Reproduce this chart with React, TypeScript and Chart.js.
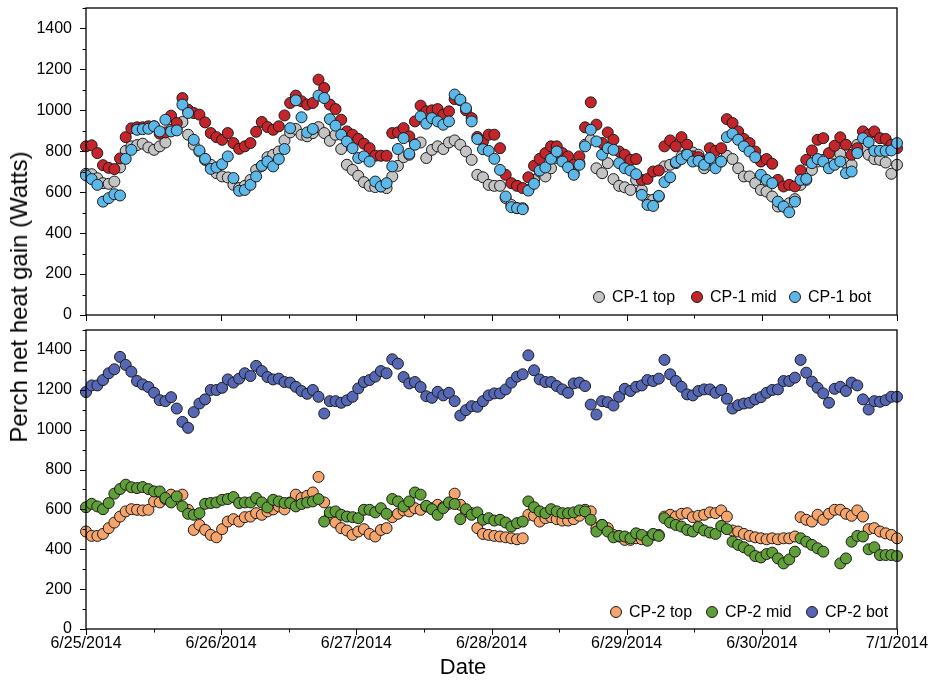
import React, { useEffect, useRef } from 'react';
import { Chart, registerables } from 'chart.js';

Chart.register(...registerables);

// Day labels along the shared time axis (one every 24 h)
const dateLabels = ['6/25/2014', '6/26/2014', '6/27/2014', '6/28/2014', '6/29/2014', '6/30/2014', '7/1/2014'];
// Labelled y ticks; minor ticks sit halfway between them
const yTickLabels = [0, 200, 400, 600, 800, 1000, 1200, 1400];
const Y_MAX = 1500;
const SPAN_HOURS = 144;

// Hourly perch net heat gain (W), CP-1 panel
const cp1Top = [
  690, 688, 668, 644, 641, 652, 721, 802, 824, 830, 837, 819, 807, 824, 843, 905, 905, 943, 881, 832,
  799, 758, 734, 693, 677, 672, 636, 620, 631, 660, 709, 729, 771,
  783, 799, 853, 892, 909, 881, 873, 889, 918, 889, 851, 881, 811, 734, 709, 680, 649, 631, 625, 628,
  620, 677, 729, 771, 783, 835, 843, 767, 807, 824, 811, 843, 853, 832, 799, 758, 685,
  673, 636, 631, 631, 571, 538, 522, 522, 611, 660, 701, 677, 717, 767, 758, 734, 693, 742, 832, 856,
  717, 693, 742, 664, 631, 624, 611, 660, 611, 563, 563, 579, 726, 734, 742, 775, 791,
  794, 783, 717, 734, 742, 750, 778, 762, 717, 677, 677, 644, 611, 603, 579, 530, 530, 546, 566, 636,
  660, 709, 750, 758, 750, 788, 788, 742, 734, 832, 815, 783, 762, 758, 745, 690, 734,
];
const cp1Mid = [
  824, 829, 791, 732, 719, 713, 765, 869, 912, 917, 917, 922, 922, 886, 892, 974, 938, 1060, 1003, 987,
  979, 941, 889, 869, 856, 889, 840, 812, 824, 840, 895, 943, 918,
  905, 922, 975, 1036, 1072, 1044, 1028, 1036, 1150, 1109, 1028, 1006, 954, 897, 881, 860, 837, 815,
  778, 778, 778, 889, 892, 913, 873, 946, 1023, 995, 1000, 1006, 979, 995,
  1055, 1049, 1000,
  962, 870, 848, 881, 881, 815, 685, 644, 631, 620, 673, 729, 763, 791, 824, 824, 791, 775, 734, 775,
  917, 1039, 930, 840, 892, 856, 799, 783, 758, 762, 660, 665, 701, 706, 824, 853, 824, 869, 832,
  775, 771, 750, 815, 802, 815, 957, 938, 897, 860, 840, 799, 750, 762, 739, 660, 628, 636, 628, 706,
  758, 804, 856, 864, 791, 827, 868, 832, 783, 815, 897, 881, 897, 864, 860, 832, 815,
];
const cp1Bot = [
  682, 664, 636, 554, 571, 590, 584, 763, 807, 905, 908, 910, 922, 897, 954, 897, 902, 1028, 987, 856,
  804, 763, 714, 721, 737, 775, 669, 607, 611, 636, 677, 729, 750,
  726, 762, 811, 913, 1049, 966, 892, 909, 1072, 1060, 957, 925, 881, 848, 815, 767, 775, 750, 652, 628,
  644, 726, 811, 864, 788, 832, 970, 935, 962, 946, 930, 946, 1077, 1052, 1011,
  946, 860, 810, 802, 763, 709, 579, 527, 522, 517, 608, 641, 706, 721, 763, 799, 750, 722, 685, 734,
  824, 905, 848, 783, 815, 807, 742, 717, 706, 688, 587, 538, 533, 582, 649, 673, 747, 762, 783,
  750, 753, 734, 767, 717, 750, 869, 886, 856, 824, 799, 771, 685, 660, 644, 554, 530, 502, 554, 660,
  665, 742, 762, 750, 717, 734, 750, 693, 701, 791, 864, 845, 802, 802, 802, 804, 840,
];

// Hourly perch net heat gain (W), CP-2 panel
const cp2Top = [
  489, 467, 467, 477, 506, 534, 564, 590, 601, 598, 595, 598, 640, 635, 652, 674, 652, 674, 598, 497,
  522, 497, 472, 460, 501, 539, 551, 539, 561, 564, 581, 573, 590,
  600, 615, 600, 635, 674, 657, 668, 685,
  763, 635, 573, 534, 506, 494, 472, 489, 501, 477, 464, 497, 506, 561, 578, 595, 590, 606, 598, 615,
  606, 623, 611, 628, 679, 623, 590, 581, 506,
  477, 472, 467, 464, 460, 455, 450, 455, 573, 568, 539, 556, 561, 551, 544, 544, 551, 568, 598, 590,
  506, 522, 506, 472, 464, 447, 447, 455, 450, 460, 472, 472, 564, 573, 564, 578, 581,
  561, 568, 573, 585, 581, 595, 564, 494, 489, 477, 467, 460, 455, 450, 455, 450, 455, 455, 464, 561,
  548, 539, 573, 548, 578, 598, 598, 578, 568, 595, 564, 501, 506, 489, 480, 472, 455,
];
const cp2Mid = [
  611, 628, 615, 601, 632, 679, 702, 724, 711, 707, 712, 702, 690, 690, 657, 635, 665, 615, 578, 573,
  581, 628, 632, 635, 648, 652, 662, 632, 635, 635, 657, 635, 610,
  648, 640, 632, 632, 615, 627, 635, 640, 652, 539, 585, 590, 573, 564, 561, 556, 598, 598, 585, 606,
  578, 652, 640, 615, 640, 685, 674, 618, 601, 573, 606, 635, 627, 551, 601, 573, 585,
  548, 556, 544, 548, 534, 514, 531, 539, 640, 611, 590, 581, 601, 590, 581, 581, 585, 595, 590, 548,
  489, 522, 489, 460, 467, 464, 455, 480, 472, 443, 477, 467, 556, 534, 522, 514, 497,
  489, 511, 494, 484, 477, 517, 501, 438, 422, 410, 393, 366, 359, 376, 383, 354, 329, 349, 388, 455,
  438, 422, 405, 388, null, null, 329, 354, 438, 467, 464, 400, 410, 371, 371, 371, 366,
];
const cp2Bot = [
  1189, 1222, 1222, 1249, 1283, 1303, 1365, 1325, 1291, 1244, 1227, 1214, 1185, 1148, 1143, 1163, 1106,
  1039, 1009, 1088, 1131, 1152, 1199, 1199, 1210, 1252, 1236, 1256, 1283, 1269, 1320, 1294, 1264,
  1252, 1256, 1239, 1236, 1215, 1194, 1180, 1199, 1165, 1081, 1143, 1143, 1135, 1147, 1165, 1207, 1239,
  1249, 1266, 1294, 1283, 1353, 1331, 1264, 1232, 1239, 1214, 1168, 1160, 1190, 1172, 1185, 1143, 1071,
  1098, 1118,
  1115, 1143, 1172, 1182, 1182, 1202, 1236, 1266, 1278, 1373, 1298, 1252, 1239, 1239, 1219, 1202, 1185,
  1232, 1236, 1219, 1126, 1076, 1143, 1138, 1121, 1165, 1205, 1194, 1215, 1222, 1249, 1244, 1256, 1350,
  1278, 1244, 1215, 1177,
  1172, 1194, 1202, 1202, 1185, 1199, 1155, 1106, 1123, 1131, 1135, 1152, 1163, 1185, 1199, 1202, 1244,
  1244, 1261, 1350, 1286, 1241, 1210, 1182, 1135, 1205, 1215, 1194, 1236, 1222, 1152, 1101, 1143, 1140,
  1148, 1165, 1165,
];

const COLORS = {
  top1: '#C4C4C4',
  mid1: '#C5252A',
  bot1: '#5CB8E8',
  top2: '#F5A46C',
  mid2: '#609F38',
  bot2: '#5567B5',
};

const FONT = '"Liberation Sans", Arial, sans-serif';
const POINT_R = 5.5;

// Samples are evenly spread over the six days
function toPoints(values: (number | null)[]) {
  const step = SPAN_HOURS / (values.length - 1);
  return values.map((v, i) => ({ x: i * step, y: v }));
}

function series(label: string, values: (number | null)[], color: string, order: number) {
  return {
    label,
    data: toPoints(values),
    backgroundColor: color,
    borderColor: '#1b1b1b',
    borderWidth: 1,
    pointRadius: POINT_R,
    pointHoverRadius: POINT_R,
    showLine: false,
    clip: false as const,
    order,
  };
}

// Box around the plot plus outward major/minor tick marks
const frameAndTicks = {
  id: 'frameAndTicks',
  afterDatasetsDraw(chart: any) {
    const { ctx, chartArea: a, scales } = chart;
    const xs = scales.x;
    const ys = scales.y;
    ctx.save();
    ctx.strokeStyle = '#000';
    ctx.lineWidth = 1.3;
    ctx.strokeRect(a.left, a.top, a.right - a.left, a.bottom - a.top);
    ctx.beginPath();
    for (let v = 0; v <= Y_MAX; v += 100) {
      const py = Math.round(ys.getPixelForValue(v)) + 0.5;
      const len = v % 200 === 0 ? 6 : 3.5;
      ctx.moveTo(a.left, py);
      ctx.lineTo(a.left - len, py);
    }
    for (let h = 0; h <= SPAN_HOURS; h += 12) {
      const px = Math.round(xs.getPixelForValue(h)) + 0.5;
      const len = h % 24 === 0 ? 6 : 3.5;
      ctx.moveTo(px, a.bottom);
      ctx.lineTo(px, a.bottom + len);
    }
    ctx.lineWidth = 1;
    ctx.stroke();
    ctx.restore();
  },
};

// Legend row tucked into the lower-right corner of the plot
function cornerLegend(items: { label: string; color: string; dx: number }[], dy: number) {
  return {
    id: 'cornerLegend',
    afterDraw(chart: any) {
      const { ctx, chartArea: a } = chart;
      const cy = a.bottom - dy;
      ctx.save();
      ctx.font = `16px ${FONT}`;
      ctx.textBaseline = 'middle';
      ctx.textAlign = 'left';
      items.forEach((it) => {
        const cx = a.right - it.dx;
        ctx.beginPath();
        ctx.arc(cx, cy, POINT_R, 0, Math.PI * 2);
        ctx.fillStyle = it.color;
        ctx.fill();
        ctx.lineWidth = 1;
        ctx.strokeStyle = '#1b1b1b';
        ctx.stroke();
        ctx.fillStyle = '#000';
        ctx.fillText(it.label, cx + 13, cy + 1);
      });
      ctx.restore();
    },
  };
}

function yScale() {
  return {
    min: 0,
    max: Y_MAX,
    grid: { display: false, drawTicks: false },
    border: { display: false },
    ticks: {
      stepSize: 100,
      autoSkip: false,
      padding: 14,
      color: '#000',
      font: { family: FONT, size: 16 },
      callback: (v: number) => (yTickLabels.includes(v) ? String(v) : ''),
    },
    afterFit: (s: any) => {
      s.width = 86;
      s.paddingTop = 0;
      s.paddingBottom = 0;
    },
  };
}

function baseOptions() {
  return {
    responsive: false,
    animation: false as const,
    events: [] as string[],
    plugins: { legend: { display: false }, tooltip: { enabled: false } },
  };
}

export default function App() {
  const topRef = useRef<HTMLCanvasElement>(null);
  const botRef = useRef<HTMLCanvasElement>(null);

  useEffect(() => {
    const top = new Chart(topRef.current!, {
      type: 'scatter',
      data: {
        datasets: [
          series('CP-1 top', cp1Top, COLORS.top1, 3),
          series('CP-1 mid', cp1Mid, COLORS.mid1, 2),
          series('CP-1 bot', cp1Bot, COLORS.bot1, 1),
        ],
      },
      options: {
        ...baseOptions(),
        layout: { padding: { left: 0, right: 35, top: 8, bottom: 7 } },
        scales: {
          x: { type: 'linear', min: 0, max: SPAN_HOURS, display: false },
          y: yScale(),
        },
      } as any,
      plugins: [
        frameAndTicks,
        cornerLegend(
          [
            { label: 'CP-1 top', color: COLORS.top1, dx: 298 },
            { label: 'CP-1 mid', color: COLORS.mid1, dx: 200 },
            { label: 'CP-1 bot', color: COLORS.bot1, dx: 102 },
          ],
          18,
        ),
      ],
    });

    const bottom = new Chart(botRef.current!, {
      type: 'scatter',
      data: {
        datasets: [
          series('CP-2 top', cp2Top, COLORS.top2, 3),
          series('CP-2 mid', cp2Mid, COLORS.mid2, 2),
          series('CP-2 bot', cp2Bot, COLORS.bot2, 1),
        ],
      },
      options: {
        ...baseOptions(),
        layout: { padding: { left: 0, right: 35, top: 8, bottom: 0 } },
        scales: {
          x: {
            type: 'linear',
            min: 0,
            max: SPAN_HOURS,
            grid: { display: false, drawTicks: false },
            border: { display: false },
            ticks: {
              stepSize: 24,
              autoSkip: false,
              maxRotation: 0,
              padding: 5,
              color: '#000',
              font: { family: FONT, size: 16 },
              callback: (v: number) => dateLabels[Math.round(v / 24)] ?? '',
            },
            afterFit: (s: any) => {
              s.height = 52;
              s.paddingLeft = 0;
              s.paddingRight = 0;
            },
          },
          y: yScale(),
        },
      } as any,
      plugins: [
        frameAndTicks,
        cornerLegend(
          [
            { label: 'CP-2 top', color: COLORS.top2, dx: 281 },
            { label: 'CP-2 mid', color: COLORS.mid2, dx: 185 },
            { label: 'CP-2 bot', color: COLORS.bot2, dx: 85 },
          ],
          17,
        ),
      ],
    });

    return () => {
      top.destroy();
      bottom.destroy();
    };
  }, []);

  return (
    <div style={{ position: 'absolute', left: 0, top: 0, width: 932, height: 681, background: '#fff', overflow: 'hidden' }}>
      <canvas ref={topRef} width={932} height={322} style={{ position: 'absolute', left: 0, top: 0 }} />
      <canvas ref={botRef} width={932} height={359} style={{ position: 'absolute', left: 0, top: 322 }} />
      <div
        style={{
          position: 'absolute',
          left: 19,
          top: 297,
          transform: 'translate(-50%, -50%) rotate(-90deg)',
          whiteSpace: 'nowrap',
          fontFamily: FONT,
          fontSize: 24,
          color: '#000',
        }}
      >
        Perch net heat gain (Watts)
      </div>
      <div
        style={{
          position: 'absolute',
          left: 463,
          top: 667,
          transform: 'translate(-50%, -50%)',
          whiteSpace: 'nowrap',
          fontFamily: FONT,
          fontSize: 22,
          color: '#000',
        }}
      >
        Date
      </div>
    </div>
  );
}
